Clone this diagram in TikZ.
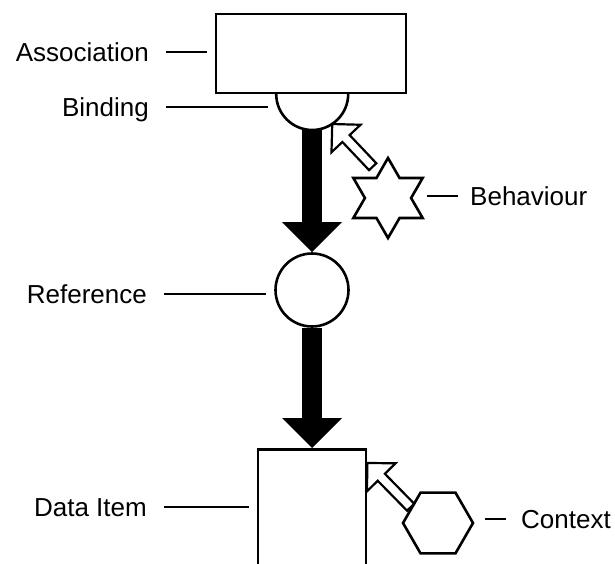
\documentclass[tikz,border=0pt]{standalone}
\usepackage{fontspec}
\setmainfont{Liberation Sans}
\usepackage{tikz}
\usetikzlibrary{arrows.meta,shapes.geometric,calc}
\tikzset{%
    item/.style={draw, line width=2.6pt, fill=white, inner sep=0pt},
    lbl/.style={font=\fontsize{26}{30}\selectfont, inner sep=0pt, text height=18.6pt, text depth=0pt},
    lead/.style={line width=2.8pt, shorten <=17pt, shorten >=8pt},
    flow/.style={line width=20pt, -{Triangle[length=30pt,width=60pt,line width=0pt]}},
    hollow/.style={draw, fill=white, line width=2.2pt, line join=miter, to path={
        ($(\tikztostart)!5pt!-90:(\tikztotarget)$)
        -- ($(\tikztotarget)!20pt!(\tikztostart)!5pt!90:(\tikztostart)$)
        -- ($(\tikztotarget)!20pt!(\tikztostart)!20pt!90:(\tikztostart)$)
        -- (\tikztotarget)
        -- ($(\tikztotarget)!20pt!(\tikztostart)!20pt!-90:(\tikztostart)$)
        -- ($(\tikztotarget)!20pt!(\tikztostart)!5pt!-90:(\tikztostart)$)
        -- ($(\tikztostart)!5pt!90:(\tikztotarget)$)
        -- cycle}}
}

\begin{document}
\begin{tikzpicture}[x=1pt,y=-1pt]
        \useasboundingbox (0,0) rectangle (615,564);
        \clip (0,0) rectangle (615,564);

        \node[circle, inner sep=0pt, minimum size=72] (bind) at (312,94) {};
        \draw[item] (bind.east) arc[start angle=0, end angle=180, radius=36];
        \node[item, minimum width=190, minimum height=79] (assoc) at (311,53.5) {};
        \node[item, circle, minimum size=73] (ref) at (312,290) {};
        \node[item, anchor=north, minimum width=108, minimum height=200] (data) at (312,448) {};
        \node[item, star, star points=6, star point ratio=1.732, minimum size=80] (behav) at (388,198) {};
        \node[item, regular polygon, regular polygon sides=6, minimum size=70] (ctx) at (438,523) {};

        \draw[flow] (bind.south) -- (ref.north);
        \draw[flow] (ref.south) -- (data.north);

        \draw[hollow] ([shift={(-3,-10)}]behav.120) to (bind.-56);
        \draw[hollow] (ctx.150) to ([shift={(0,15)}]data.north east);

        \node[lbl, anchor=east] (assoc-l) at (149,52) {Association};
        \node[lbl, anchor=east] (bind-l) at (149,107) {Binding};
        \node[lbl, anchor=east] (ref-l) at (147,294) {Reference};
        \node[lbl, anchor=east] (data-l) at (147,507) {Data Item};
        \node[lbl, anchor=west] (behav-l) at (470,196) {Behaviour};
        \node[lbl, anchor=west] (ctx-l) at (521,519) {Context};

        \draw[lead] (assoc-l.east) -- (assoc-l.east -| assoc.west);
        \draw[lead] (bind-l.east) -- (bind-l.east -| bind.west);
        \draw[lead] (ref-l.east) -- (ref-l.east -| ref.west);
        \draw[lead] (data-l.east) -- (data-l.east -| data.west);
        \draw[lead, shorten <=12pt, shorten >=14pt] (behav-l.west) -- (behav-l.west -| behav.east);
        \draw[lead, shorten <=15pt, shorten >=10pt] (ctx-l.west) -- (ctx-l.west -| ctx.east);
    \end{tikzpicture}
\end{document}
